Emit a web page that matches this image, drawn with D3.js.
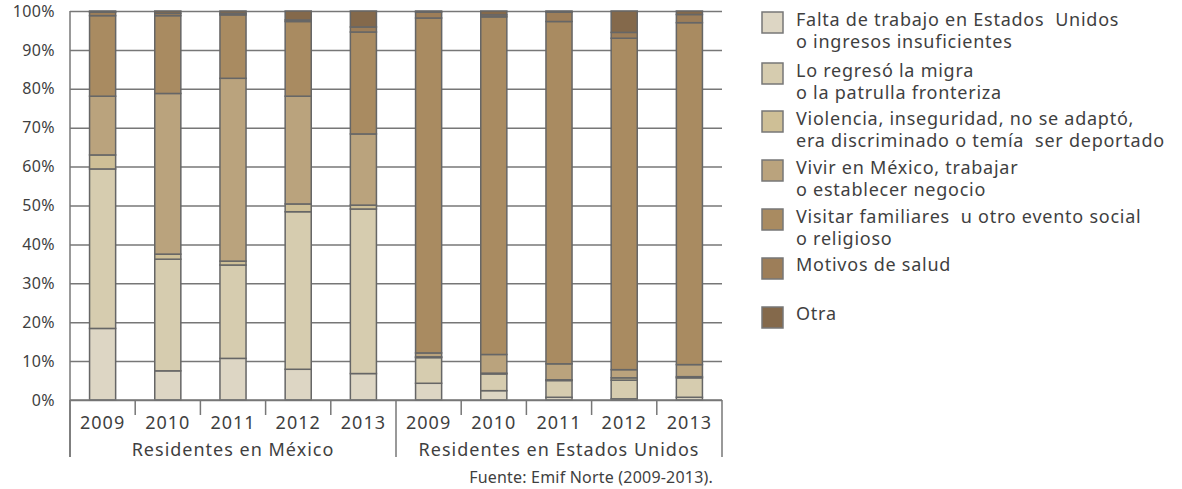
<!DOCTYPE html>
<html lang="es">
<head>
    <meta charset="utf-8">
    <title>Motivos de regreso</title>
    <script src="https://d3js.org/d3.v7.min.js"></script>
    <style>
        body { margin: 0; background: #fff; }
        text { font-family: "Noto Sans", sans-serif; fill: #3f3f3f; }
    </style>
</head>
<body>
    <div id="chart"></div>
    <script>

        // groups and years on the x axis
        const groups = ["Residentes en México", "Residentes en Estados Unidos"];
        const years = ["2009", "2010", "2011", "2012", "2013"];

        // series (stack order, bottom to top)
        const series = [
            "Falta de trabajo en Estados Unidos o ingresos insuficientes",
            "Lo regresó la migra o la patrulla fronteriza",
            "Violencia, inseguridad, no se adaptó, era discriminado o temía ser deportado",
            "Vivir en México, trabajar o establecer negocio",
            "Visitar familiares u otro evento social o religioso",
            "Motivos de salud",
            "Otra"
        ];

        // legend text, split in lines as in the original
        const legendLines = [
            ["Falta de trabajo en Estados  Unidos", "o ingresos insuficientes"],
            ["Lo regresó la migra", "o la patrulla fronteriza"],
            ["Violencia, inseguridad, no se adaptó,", "era discriminado o temía  ser deportado"],
            ["Vivir en México, trabajar", "o establecer negocio"],
            ["Visitar familiares  u otro evento social", "o religioso"],
            ["Motivos de salud"],
            ["Otra"]
        ];

        const colors = ["#ddd6c4", "#d6ccaf", "#cebf96", "#baa37d", "#a98b61", "#9d7e59", "#84694b"];

        // values (%), 5 years of México then 5 years of Estados Unidos
        const falta     = [18.4,  7.5, 10.7,  7.9,  6.8,  4.3,  2.4,  0.7,  0.3,  0.7];
        const migra     = [41.0, 28.7, 24.0, 40.5, 42.3,  6.6,  4.3,  4.3,  4.8,  5.0];
        const violencia = [ 3.6,  1.3,  1.0,  2.0,  1.0,  0.2,  0.2,  0.2,  0.6,  0.3];
        const vivir     = [15.1, 41.3, 47.0, 27.7, 18.3,  1.0,  4.8,  4.1,  2.1,  3.1];
        const visitar   = [20.7, 20.0, 16.3, 19.2, 26.2, 86.1, 86.8, 88.0, 85.2, 87.9];
        const salud     = [ 0.9,  0.6,  0.4,  0.4,  1.3,  1.5,  0.5,  2.4,  1.5,  2.1];
        const otra      = [ 0.3,  0.6,  0.6,  2.3,  4.1,  0.3,  1.0,  0.3,  5.5,  0.9];

        const yTicks = [0, 10, 20, 30, 40, 50, 60, 70, 80, 90, 100];

        const valueArrays = [falta, migra, violencia, vivir, visitar, salud, otra];
        const keys = groups.flatMap(g => years.map(y => g + "|" + y));
        const rows = keys.map((k, i) => {
            const r = { key: k };
            series.forEach((s, j) => r[s] = valueArrays[j][i]);
            return r;
        });

        const width = 1182, height = 489;
        const mLeft = 70, mRight = 722, mTop = 11, mBottom = 400;

        const svg = d3.select("#chart")
            .append("svg")
            .attr("width", width)
            .attr("height", height);

        const x = d3.scaleBand()
            .domain(keys)
            .range([mLeft, mRight])
            .paddingInner(0.6)
            .paddingOuter(0.3);

        const y = d3.scaleLinear()
            .domain([0, 100])
            .range([mBottom, mTop]);

        // grid lines and y labels
        const yAxis = d3.axisLeft(y)
            .tickValues(yTicks)
            .tickSize(-(mRight - mLeft))
            .tickFormat(d => d + "%");

        svg.append("g")
            .attr("transform", `translate(${mLeft},0)`)
            .call(yAxis)
            .call(g => g.select(".domain").remove())
            .call(g => g.selectAll(".tick line").attr("stroke", "#777").attr("stroke-width", 1.5))
            .call(g => g.selectAll(".tick text")
                .attr("x", -15)
                .style("font-size", "16px")
                .style("letter-spacing", "0.4px")
                .style("font-family", "'Noto Sans', sans-serif")
                .attr("fill", "#3f3f3f"));

        // stacked bars
        const stacked = d3.stack().keys(series)(rows);

        svg.append("g")
            .selectAll("g")
            .data(stacked)
            .join("g")
            .attr("fill", (d, i) => colors[i])
            .selectAll("rect")
            .data(d => d)
            .join("rect")
            .attr("x", d => x(d.data.key))
            .attr("width", x.bandwidth())
            .attr("y", d => y(d[1]))
            .attr("height", d => y(d[0]) - y(d[1]))
            .attr("stroke", "#666")
            .attr("stroke-width", 1.5);

        // axis lines
        const step = x.step();
        const axisG = svg.append("g").attr("stroke", "#777").attr("stroke-width", 1.5);

        axisG.append("line")
            .attr("x1", mLeft).attr("x2", mLeft)
            .attr("y1", mTop).attr("y2", 457);

        axisG.append("line")
            .attr("x1", mLeft).attr("x2", mRight)
            .attr("y1", mBottom).attr("y2", mBottom);

        // separators between years and between groups
        d3.range(keys.length + 1).forEach(i => {
            const xp = mLeft + i * step;
            const isGroupEdge = i % years.length === 0;
            axisG.append("line")
                .attr("x1", xp).attr("x2", xp)
                .attr("y1", mBottom)
                .attr("y2", isGroupEdge ? 457 : 415);
        });

        // year labels
        svg.append("g")
            .selectAll("text")
            .data(keys)
            .join("text")
            .attr("x", d => x(d) + x.bandwidth() / 2)
            .attr("y", 429)
            .attr("text-anchor", "middle")
            .style("font-size", "18px")
            .style("letter-spacing", "1px")
            .text(d => d.split("|")[1]);

        // group labels
        svg.append("g")
            .selectAll("text")
            .data(groups)
            .join("text")
            .attr("x", (d, i) => mLeft + (i + 0.5) * years.length * step)
            .attr("y", 456)
            .attr("text-anchor", "middle")
            .style("font-size", "18px")
            .style("letter-spacing", "1px")
            .text(d => d);

        // source
        svg.append("text")
            .attr("x", 713)
            .attr("y", 483)
            .attr("text-anchor", "end")
            .style("font-size", "16px")
            .style("letter-spacing", "0.2px")
            .text("Fuente: Emif Norte (2009-2013).");

        // legend
        const legendY = [22, 73, 121, 170, 219, 268, 317];
        const legend = svg.append("g")
            .selectAll("g")
            .data(series)
            .join("g")
            .attr("transform", (d, i) => `translate(762,${legendY[i]})`);

        legend.append("rect")
            .attr("x", 0)
            .attr("y", -10)
            .attr("width", 21)
            .attr("height", 21)
            .attr("fill", (d, i) => colors[i])
            .attr("stroke", "#777")
            .attr("stroke-width", 1.5);

        legend.append("text")
            .attr("x", 34)
            .attr("y", (d, i) => legendLines[i].length > 1 ? 4 : 3)
            .style("font-size", "18px")
            .style("letter-spacing", "0.75px")
            .style("white-space", "pre")
            .selectAll("tspan")
            .data((d, i) => legendLines[i])
            .join("tspan")
            .attr("x", 34)
            .attr("dy", (d, j) => j === 0 ? 0 : 21.5)
            .text(d => d);

    </script>
</body>
</html>
